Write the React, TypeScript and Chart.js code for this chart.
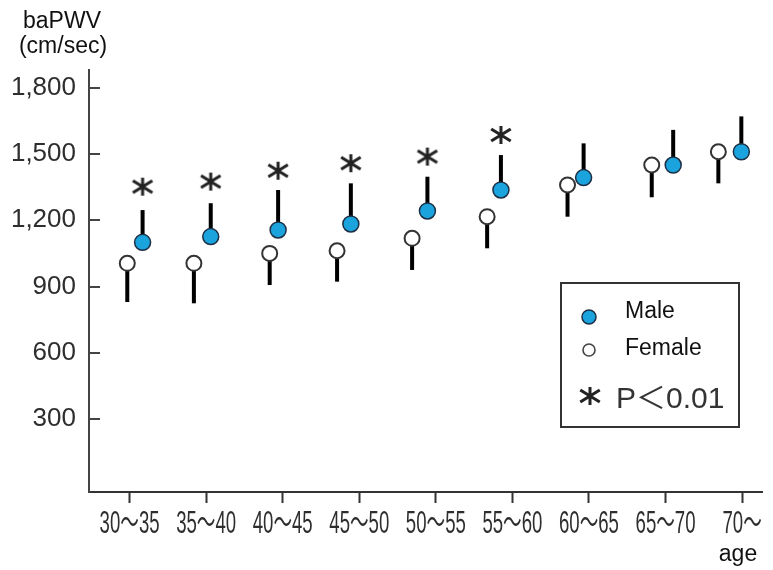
import React, { useEffect, useRef } from 'react';
import { Chart, registerables } from 'chart.js';

Chart.register(...registerables);

// ---- data ----
const ageGroups = ['30〜35', '35〜40', '40〜45', '45〜50', '50〜55', '55〜60', '60〜65', '65〜70', '70〜'];
const maleMean = [1100, 1126, 1156, 1183, 1242, 1337, 1393, 1450, 1510];
const maleSD = [146, 151, 181, 184, 155, 158, 155, 159, 160];
const femaleMean = [1005, 1005, 1050, 1062, 1118, 1216, 1360, 1450, 1510];
const femaleSD = [175, 181, 143, 140, 143, 143, 144, 146, 143];
// where each mark sits along the age axis (group index units)
const maleAt = [0.17, 1.06, 1.94, 2.89, 3.89, 4.85, 5.93, 7.1, 7.99];
const femaleAt = [-0.03, 0.84, 1.83, 2.71, 3.69, 4.67, 5.72, 6.82, 7.69];
// significance asterisks (above male bars)
const starAt = [0.17, 1.06, 1.94, 2.89, 3.89, 4.85];
const starY = [1352, 1375, 1424, 1458, 1488, 1586];
const yTicks = [300, 600, 900, 1200, 1500, 1800];
const yTitle = ['baPWV', '(cm/sec)'];
const xTitle = 'age';
const legendLabels = ['Male', 'Female', 'P＜0.01'];

const MALE_FILL = '#1ba3dd';
const MALE_EDGE = '#1c2f44';
const FEMALE_EDGE = '#333333';
const TEXT = '#2e2e2e';
const SANS = "'Liberation Sans', Arial, 'Noto Sans CJK JP', sans-serif";

function drawAsterisk(ctx: CanvasRenderingContext2D, cx: number, cy: number) {
  ctx.save();
  ctx.strokeStyle = '#222';
  ctx.lineWidth = 3;
  ctx.lineCap = 'butt';
  ctx.beginPath();
  ctx.moveTo(cx, cy - 9);
  ctx.lineTo(cx, cy + 9);
  const a = (32 * Math.PI) / 180;
  const L = 11.5;
  ctx.moveTo(cx - L * Math.cos(a), cy - L * Math.sin(a));
  ctx.lineTo(cx + L * Math.cos(a), cy + L * Math.sin(a));
  ctx.moveTo(cx - L * Math.cos(a), cy + L * Math.sin(a));
  ctx.lineTo(cx + L * Math.cos(a), cy - L * Math.sin(a));
  ctx.stroke();
  ctx.restore();
}

function makeStarImage(): HTMLCanvasElement {
  const c = document.createElement('canvas');
  c.width = 26;
  c.height = 22;
  const ctx = c.getContext('2d')!;
  drawAsterisk(ctx, 13, 11);
  return c;
}

const errorBarPlugin = {
  id: 'errorBars',
  beforeDatasetsDraw(chart: any) {
    const { ctx, scales } = chart;
    const xs = scales.x;
    const ys = scales.y;
    ctx.save();
    ctx.strokeStyle = '#000';
    ctx.lineWidth = 4;
    ctx.lineCap = 'butt';
    maleMean.forEach((m, i) => {
      const x = xs.getPixelForValue(maleAt[i]);
      ctx.beginPath();
      ctx.moveTo(x, ys.getPixelForValue(m));
      ctx.lineTo(x, ys.getPixelForValue(m + maleSD[i]));
      ctx.stroke();
    });
    femaleMean.forEach((m, i) => {
      const x = xs.getPixelForValue(femaleAt[i]);
      ctx.beginPath();
      ctx.moveTo(x, ys.getPixelForValue(m));
      ctx.lineTo(x, ys.getPixelForValue(m - femaleSD[i]));
      ctx.stroke();
    });
    ctx.restore();
  },
};

const decorPlugin = {
  id: 'decor',
  afterDraw(chart: any) {
    const { ctx, scales, chartArea } = chart;
    const xs = scales.x;
    const ys = scales.y;
    ctx.save();

    // inward y tick marks
    ctx.strokeStyle = '#444';
    ctx.lineWidth = 2;
    yTicks.forEach((v) => {
      const y = Math.round(ys.getPixelForValue(v));
      ctx.beginPath();
      ctx.moveTo(chartArea.left, y);
      ctx.lineTo(chartArea.left + 11, y);
      ctx.stroke();
    });

    // condensed x category labels
    ctx.fillStyle = TEXT;
    ctx.textAlign = 'center';
    ctx.textBaseline = 'alphabetic';
    ctx.font = `31px ${SANS}`;
    ageGroups.forEach((lab, i) => {
      const x = xs.getPixelForValue(i);
      ctx.save();
      ctx.translate(x, 533);
      ctx.scale(0.6, 1);
      ctx.fillText(lab, 0, 0);
      ctx.restore();
    });

    // axis titles
    ctx.fillStyle = '#111';
    ctx.font = `23px ${SANS}`;
    ctx.textAlign = 'center';
    ctx.fillText(yTitle[0], 62, 28);
    ctx.fillText(yTitle[1], 63, 53);
    ctx.fillText(xTitle, 738, 561);

    // legend box
    const bx = 561, by = 283, bw = 178, bh = 144;
    ctx.strokeStyle = '#333';
    ctx.lineWidth = 2;
    ctx.strokeRect(bx, by, bw, bh);

    ctx.beginPath();
    ctx.arc(589, 317, 7, 0, Math.PI * 2);
    ctx.fillStyle = MALE_FILL;
    ctx.fill();
    ctx.lineWidth = 1.5;
    ctx.strokeStyle = MALE_EDGE;
    ctx.stroke();

    ctx.beginPath();
    ctx.arc(589, 350, 6, 0, Math.PI * 2);
    ctx.fillStyle = '#fff';
    ctx.fill();
    ctx.lineWidth = 1.6;
    ctx.strokeStyle = '#444';
    ctx.stroke();

    drawAsterisk(ctx, 590, 396);

    ctx.fillStyle = '#111';
    ctx.textAlign = 'left';
    ctx.font = `23px ${SANS}`;
    ctx.fillText(legendLabels[0], 625, 318);
    ctx.fillText(legendLabels[1], 625, 355);
    ctx.fillStyle = '#333';
    ctx.font = `30px ${SANS}`;
    ctx.fillText(legendLabels[2], 616, 408);

    ctx.restore();
  },
};

export default function App() {
  const ref = useRef<HTMLCanvasElement | null>(null);

  useEffect(() => {
    if (!ref.current) return;
    const star = makeStarImage();
    const chart = new Chart(ref.current, {
      type: 'scatter',
      data: {
        datasets: [
          {
            label: 'Male',
            data: maleMean.map((y, i) => ({ x: maleAt[i], y })),
            pointRadius: 8,
            pointBackgroundColor: MALE_FILL,
            pointBorderColor: MALE_EDGE,
            pointBorderWidth: 1.5,
            showLine: false,
          },
          {
            label: 'Female',
            data: femaleMean.map((y, i) => ({ x: femaleAt[i], y })),
            pointRadius: 7.5,
            pointBackgroundColor: '#ffffff',
            pointBorderColor: FEMALE_EDGE,
            pointBorderWidth: 2,
            showLine: false,
          },
          {
            label: 'P<0.01',
            data: starY.map((y, i) => ({ x: starAt[i], y })),
            pointStyle: star as any,
            pointRadius: 10,
            showLine: false,
          },
        ],
      },
      options: {
        responsive: false,
        animation: false,
        events: [],
        layout: { padding: { top: 70, right: 3, left: 0, bottom: 0 } },
        plugins: {
          legend: { display: false },
          title: { display: false },
          tooltip: { enabled: false },
        },
        scales: {
          x: {
            type: 'linear',
            min: -0.53,
            max: 8.26,
            afterBuildTicks: (s: any) => {
              s.ticks = ageGroups.map((_, i) => ({ value: i }));
            },
            afterFit: (s: any) => {
              s.height = 78;
            },
            ticks: { display: false },
            grid: {
              display: true,
              drawOnChartArea: false,
              drawTicks: true,
              tickLength: 11,
              tickWidth: 2,
              tickColor: '#333',
              color: '#333',
            },
            border: { display: true, color: '#333', width: 2 },
          },
          y: {
            type: 'linear',
            min: -30,
            max: 1880,
            afterBuildTicks: (s: any) => {
              s.ticks = yTicks.map((v) => ({ value: v }));
            },
            afterFit: (s: any) => {
              s.width = 89;
            },
            ticks: {
              padding: 13,
              color: TEXT,
              font: { size: 26, family: SANS },
              callback: (v: any) => Number(v).toLocaleString('en-US'),
            },
            grid: { display: false, drawTicks: false },
            border: { display: true, color: '#444', width: 2 },
          },
        },
      },
      plugins: [errorBarPlugin, decorPlugin],
    });
    return () => chart.destroy();
  }, []);

  return (
    <div style={{ position: 'fixed', left: 0, top: 0, width: 773, height: 570, background: '#fff' }}>
      <canvas ref={ref} width={773} height={570} style={{ display: 'block' }} />
    </div>
  );
}
